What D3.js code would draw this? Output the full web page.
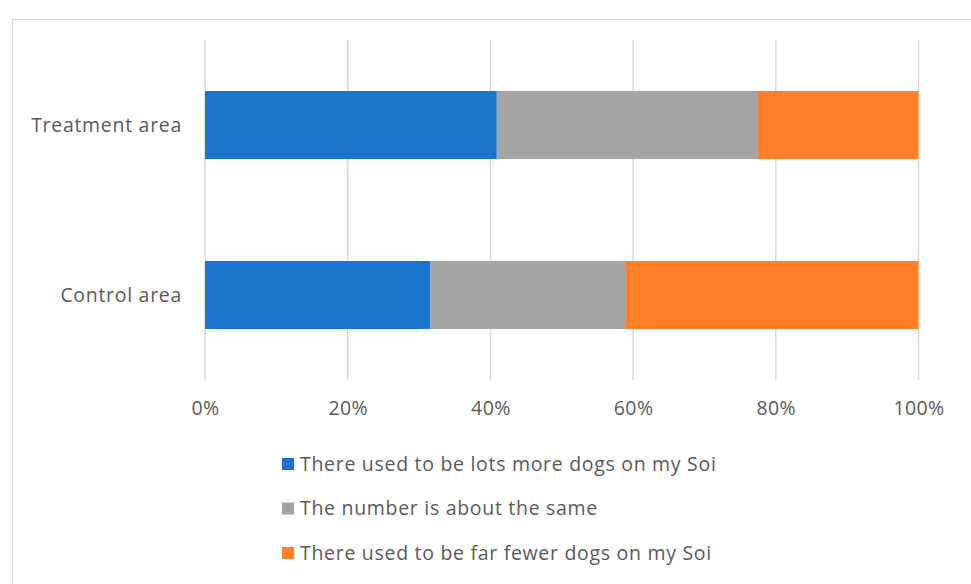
<!DOCTYPE html>
<html><head><meta charset="utf-8">
<script src="https://cdn.jsdelivr.net/npm/d3@7"></script>
<style>body{margin:0;background:#fff}svg{display:block}text{font-family:"Open Sans",sans-serif;fill:#595959}</style>
</head><body><svg id="c" width="971" height="584"></svg>
<script>
const categories = ["Treatment area", "Control area"];
const seriesNames = ["There used to be lots more dogs on my Soi", "The number is about the same", "There used to be far fewer dogs on my Soi"];
const lotsMore = [40.9, 31.6];
const aboutSame = [36.6, 27.4];
const farFewer = [22.5, 41.0];
const tickValues = [0, 20, 40, 60, 80, 100];
const colors = ["#1874cd", "#a5a5a5", "#fe7f27"];

const svg = d3.select("#c");
svg.append("rect").attr("x", 12.5).attr("y", 19.5).attr("width", 990).attr("height", 600)
  .attr("fill", "#fff").attr("stroke", "#d9d9d9").attr("stroke-width", 1);

const x = d3.scaleLinear().domain([0, 100]).range([205, 918.5]);
const y = d3.scaleBand().domain(categories).range([40, 380]).paddingInner(0.6).paddingOuter(0.3);

svg.append("g").selectAll("line").data(tickValues).join("line")
  .attr("x1", d => x(d)).attr("x2", d => x(d)).attr("y1", 40).attr("y2", 380)
  .attr("stroke", "#d9d9d9").attr("stroke-width", 1.5);

const rows = categories.map((c, i) => ({cat: c, v: [lotsMore[i], aboutSame[i], farFewer[i]]}));
const data = rows.map(r => { const o = {cat: r.cat}; seriesNames.forEach((s, j) => o[s] = r.v[j]); return o; });
const stack = d3.stack().keys(seriesNames).offset(d3.stackOffsetExpand)(data);

svg.append("g").selectAll("g").data(stack).join("g").attr("fill", (d, i) => colors[i])
  .selectAll("rect").data(d => d).join("rect")
  .attr("x", d => x(d[0] * 100)).attr("width", d => x(d[1] * 100) - x(d[0] * 100))
  .attr("y", d => y(d.data.cat)).attr("height", y.bandwidth());

const ax = svg.append("g").attr("transform", "translate(0,380)")
  .call(d3.axisBottom(x).tickValues(tickValues).tickFormat(d => d + "%").tickSize(0).tickPadding(21));
ax.select(".domain").remove();
ax.selectAll("text").attr("font-size", 19.5).attr("letter-spacing", 0.4).style("font-family", "Open Sans").attr("fill", "#595959");

svg.append("g").selectAll("text").data(categories).join("text")
  .attr("x", 182).attr("y", d => y(d) + y.bandwidth() / 2).attr("dy", "0.35em")
  .attr("text-anchor", "end").attr("font-size", 19.5).attr("letter-spacing", 0.7).text(d => d);

const lg = svg.append("g").selectAll("g").data(seriesNames).join("g")
  .attr("transform", (d, i) => `translate(282,${464 + i * 44.5})`);
lg.append("rect").attr("x", 0).attr("y", -6).attr("width", 12).attr("height", 12).attr("fill", (d, i) => colors[i]);
lg.append("text").attr("x", 18).attr("dy", "0.35em").attr("font-size", 19.5).attr("letter-spacing", 0.7).text(d => d);
</script></body></html>
